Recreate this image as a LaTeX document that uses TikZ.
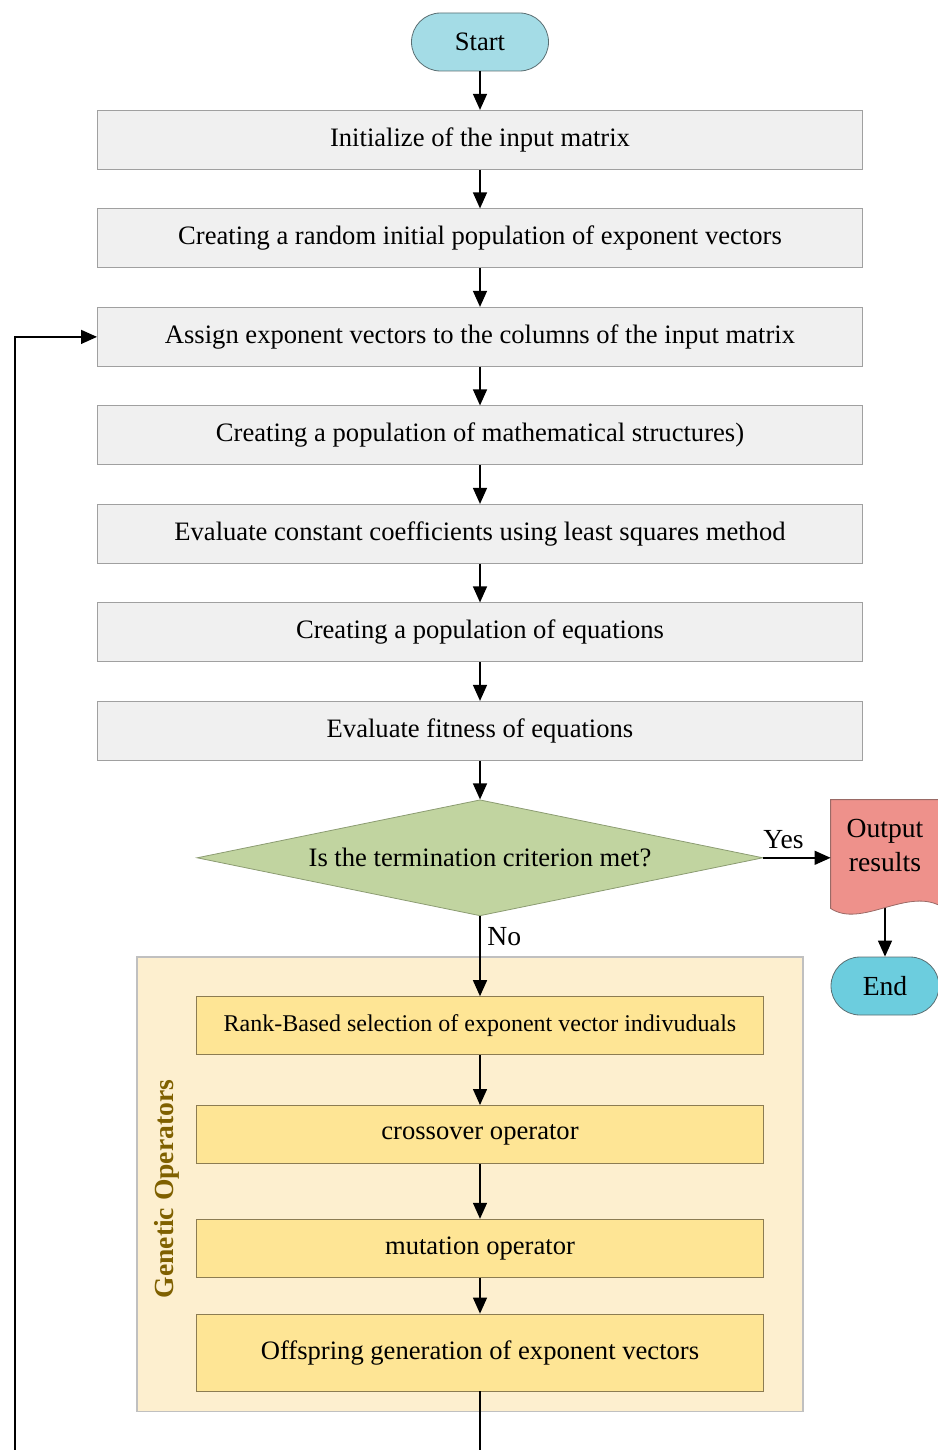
\documentclass[tikz,border=0pt]{standalone}
\usepackage{fontspec}
\setmainfont{Liberation Serif}
\usetikzlibrary{positioning,arrows.meta,calc,shapes.geometric,backgrounds}
\definecolor{termfill}{HTML}{A4DCE6}
\definecolor{endfill}{HTML}{6CCDDE}
\definecolor{termdraw}{HTML}{5A6E72}
\definecolor{stepfill}{HTML}{F0F0F0}
\definecolor{stepdraw}{HTML}{A0A0A0}
\definecolor{decfill}{HTML}{C1D4A0}
\definecolor{decdraw}{HTML}{8C9C72}
\definecolor{outfill}{HTML}{EE918B}
\definecolor{outdraw}{HTML}{9A6A66}
\definecolor{grpfill}{HTML}{FDEFCF}
\definecolor{grpdraw}{HTML}{C0C0C0}
\definecolor{opfill}{HTML}{FEE595}
\definecolor{opdraw}{HTML}{8C7C52}
\definecolor{grptext}{HTML}{7F6000}

\begin{document}
\begin{tikzpicture}[
    x=0.5pt, y=-0.5pt,
    font=\fontsize{13.3}{16}\selectfont,
    node distance=19.25pt,
    >={Triangle[length=8pt,width=7pt]},
    term/.style={rectangle, rounded corners=14.5pt, minimum width=68.5pt,
                 minimum height=29pt, fill=termfill, draw=termdraw, line width=0.4pt},
    stepbox/.style={rectangle, minimum width=382.5pt, minimum height=29.5pt,
                    fill=stepfill, draw=stepdraw, line width=0.5pt},
    decision/.style={diamond, aspect=4.9, minimum width=283pt, minimum height=58pt,
                     inner sep=0pt, fill=decfill, draw=decdraw, line width=0.4pt},
    opbox/.style={rectangle, minimum width=283.5pt, minimum height=29pt,
                  fill=opfill, draw=opdraw, line width=0.4pt},
    big/.style={font=\fontsize{13.8}{17}\selectfont},
    flow/.style={->, line width=0.7pt},
]
\useasboundingbox (0,0) rectangle (937,1450);

% ---------------- Main path ----------------
\node[term] (start) at (480,42) {Start};
\node[stepbox, below=of start] (b1) {Initialize of the input matrix};
\node[stepbox, below=of b1] (b2) {Creating a random initial population of exponent vectors};
\node[stepbox, below=of b2] (b3) {Assign exponent vectors to the columns of the input matrix};
\node[stepbox, below=of b3] (b4) {Creating a population of mathematical structures)};
\node[stepbox, below=of b4] (b5) {Evaluate constant coefficients using least squares method};
\node[stepbox, below=of b5] (b6) {Creating a population of equations};
\node[stepbox, below=of b6] (b7) {Evaluate fitness of equations};
\node[decision, below=of b7] (crit) {Is the termination criterion met?};

\foreach \a/\b in {start/b1, b1/b2, b2/b3, b3/b4, b4/b5, b5/b6, b6/b7, b7/crit}
  \draw[flow] (\a) -- (\b);

% ---------------- Output and end ----------------
\node[big, align=center, minimum width=54pt, minimum height=45pt] (out) at (885,845)
  {Output\\results};
\node[term, big, fill=endfill, minimum width=54pt] (end) at (885,986) {End};

\draw[flow] (crit.east) -- (crit.east -| out.west)
  node[big, pos=0.3, above, inner sep=4pt] (yes) {Yes};

% ---------------- Genetic operators ----------------
\node[opbox, below=40pt of crit, font=\fontsize{12}{14}\selectfont] (rank)
  {Rank-Based selection of exponent vector indivuduals};
\node[opbox, below=25pt of rank] (cross) {crossover operator};
\node[opbox, below=27.5pt of cross] (mut) {mutation operator};
\node[opbox, below=18pt of mut, minimum height=38.5pt] (off)
  {Offspring generation of exponent vectors};

\node[font=\fontsize{13.8}{17}\selectfont\bfseries, text=grptext, rotate=90] (grplabel)
  at ($(rank.west)!0.5!(off.west)+(-29,0)$) {Genetic Operators};

\draw[flow] (crit.south) -- (rank.north) node[big, pos=0.25, right] (no) {No};
\foreach \a/\b in {rank/cross, cross/mut, mut/off}
  \draw[flow] (\a) -- (\b);

% loop back to the assignment step
\coordinate (loopcorner) at (15,1470);
\draw[flow] (off.south) |- (loopcorner) |- (b3.west);

\begin{scope}[on background layer]
  \filldraw[fill=grpfill, draw=grpdraw, line width=0.8pt]
    ($(rank.north west)+(-59,-39)$) rectangle ($(off.south east)+(39,20)$);
  \draw[flow] (out.south) -- (end.north);
  \filldraw[fill=outfill, draw=outdraw, line width=0.4pt]
    (out.north west) -- (out.north east) -- ($(out.south east)+(0,15)$)
    .. controls ($(out.south east)+(-34,-2)$) and ($(out.south west)+(30,38)$)
    .. ($(out.south west)+(0,18)$) -- cycle;
\end{scope}
\end{tikzpicture}
\end{document}
